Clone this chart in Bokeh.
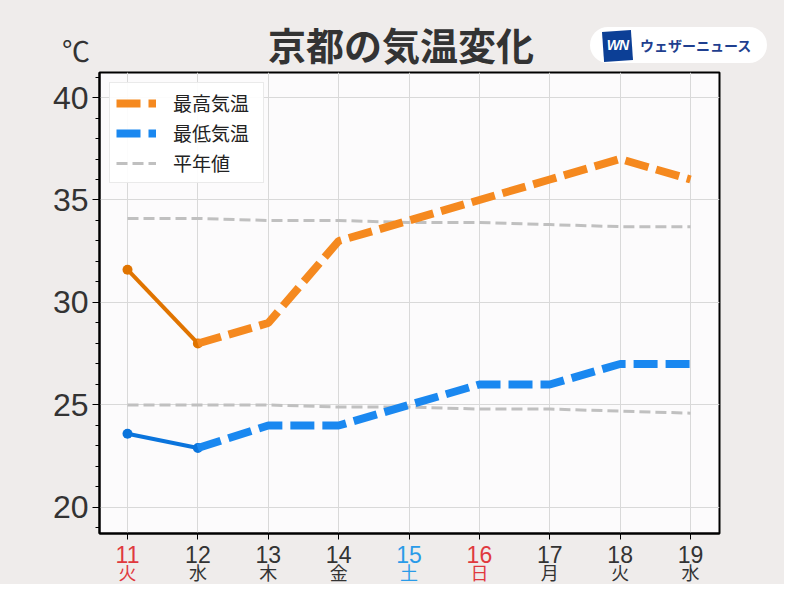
from bokeh.plotting import figure
from bokeh.layouts import column
from bokeh.models import (Range1d, SingleIntervalTicker, FixedTicker, Legend, LegendItem,
                          ColumnDataSource, Div)
from bokeh.core.properties import value
from bokeh.embed import file_html
from bokeh.resources import INLINE

# ---- data ----
days = [11, 12, 13, 14, 15, 16, 17, 18, 19]
weekdays = ["火", "水", "木", "金", "土", "日", "月", "火", "水"]
holidays = [11]
obs_days = [11, 12]
obs_max = [31.6, 28.0]
obs_min = [23.6, 22.9]
fc_days = [12, 13, 14, 15, 16, 17, 18, 19]
fc_max = [28.0, 29.0, 33.0, 34.0, 35.0, 36.0, 37.0, 36.0]
fc_min = [22.9, 24.0, 24.0, 25.0, 26.0, 26.0, 27.0, 27.0]
normal_max = [34.1, 34.1, 34.0, 34.0, 33.9, 33.9, 33.8, 33.7, 33.7]
normal_min = [25.0, 25.0, 25.0, 24.9, 24.9, 24.8, 24.8, 24.7, 24.6]
title_text = "京都の気温変化"
unit_text = "℃"
brand_text = "ウェザーニュース"

BG = "#efeceb"
PLOT_BG = "#fcfbfc"
DARK = "#333333"
RED = "#e0393e"
BLUE = "#2a9be8"
CJK = "Noto Sans CJK JP"
NUM = "Liberation Sans"

W = 784
HEAD_H = 71
FL, FW = 99, 620
FR = W - FL - FW
FH = 461
P1_BOTTOM = 8
P2_H = 584 - HEAD_H - (1 + FH + P1_BOTTOM)

# ---- header (HTML text) ----
head_html = f"""
<div style="position:relative;width:{W}px;height:{HEAD_H}px;background:{BG};">
  <div style="position:absolute;left:0;top:25px;width:802px;text-align:center;
              font-family:'{CJK}';font-size:38px;font-weight:bold;line-height:1;color:{DARK};">{title_text}</div>
  <div style="position:absolute;left:46px;top:36px;width:60px;text-align:center;
              font-family:'{CJK}';font-size:28px;line-height:1;color:{DARK};">{unit_text}</div>
  <div style="position:absolute;left:590px;top:27px;width:177px;height:36px;border-radius:18px;
              background:#ffffff;"></div>
  <div style="position:absolute;left:603px;top:31px;width:29px;height:30px;background:#0c3f96;
              transform:rotate(-4deg);"></div>
  <div style="position:absolute;left:603px;top:38px;width:29px;text-align:center;
              font-family:'{NUM}';font-size:14px;font-weight:bold;font-style:italic;
              line-height:1;color:#ffffff;letter-spacing:-1px;">WN</div>
  <div style="position:absolute;left:640px;top:38px;font-family:'{CJK}';font-size:14px;
              font-weight:bold;line-height:1;color:#1f3f8f;white-space:nowrap;">{brand_text}</div>
</div>
"""
head = Div(text=head_html, width=W, height=HEAD_H, margin=0,
           styles={"background-color": BG})

# ---- main plot ----
p1 = figure(frame_width=FW, frame_height=FH, min_border_left=FL, min_border_right=FR,
            min_border_top=1, min_border_bottom=P1_BOTTOM,
            x_range=Range1d(10.602, 19.412), y_range=Range1d(18.73, 41.22),
            toolbar_location=None, output_backend="svg", title=None)
p1.background_fill_color = PLOT_BG
p1.border_fill_color = BG
p1.outline_line_color = "black"
p1.outline_line_width = 2

p1.yaxis.ticker = SingleIntervalTicker(interval=5, num_minor_ticks=5)
p1.yaxis.major_label_text_font = NUM
p1.yaxis.major_label_text_font_size = "32px"
p1.yaxis.major_label_text_color = DARK
p1.yaxis.major_label_standoff = 4
p1.yaxis.major_tick_out = 7
p1.yaxis.major_tick_in = 0
p1.yaxis.minor_tick_out = 4
p1.yaxis.minor_tick_in = 0
p1.yaxis.axis_line_color = "black"
p1.yaxis.axis_line_width = 2

p1.xaxis.ticker = FixedTicker(ticks=days)
p1.xaxis.major_label_text_font_size = "1px"
p1.xaxis.major_label_text_alpha = 0
p1.xaxis.major_label_standoff = 0
p1.xaxis.major_tick_out = 6
p1.xaxis.major_tick_in = 0
p1.xaxis.minor_tick_line_color = None
p1.xaxis.axis_line_color = "black"
p1.xaxis.axis_line_width = 2

p1.xgrid.ticker = FixedTicker(ticks=days)
p1.grid.grid_line_color = "#d9d9d9"
p1.grid.grid_line_width = 1

GRAY = "#c0c0c0"
r_nmax = p1.line(days, normal_max, line_color=GRAY, line_width=3, line_dash="11 5")
p1.line(days, normal_min, line_color=GRAY, line_width=3, line_dash="11 5")

OBS_O, OBS_B = "#e07400", "#0a74dc"
p1.line(obs_days, obs_max, line_color=OBS_O, line_width=4)
p1.scatter(obs_days, obs_max, size=10, fill_color=OBS_O, line_color=None)
p1.line(obs_days, obs_min, line_color=OBS_B, line_width=4)
p1.scatter(obs_days, obs_min, size=10, fill_color=OBS_B, line_color=None)

r_fmax = p1.line(fc_days, fc_max, line_color="#f5891f", line_width=8, line_dash="24 8")
r_fmin = p1.line(fc_days, fc_min, line_color="#1a88f0", line_width=8, line_dash="24 8")

legend = Legend(items=[LegendItem(label="最高気温", renderers=[r_fmax]),
                       LegendItem(label="最低気温", renderers=[r_fmin]),
                       LegendItem(label="平年値", renderers=[r_nmax])],
                location="top_left")
legend.margin = 10
legend.padding = 6
legend.spacing = 3
legend.glyph_width = 40
legend.glyph_height = 26
legend.label_height = 26
legend.label_width = 84
legend.label_standoff = 17
legend.label_text_font = CJK
legend.label_text_font_size = "19px"
legend.label_text_color = "#222222"
legend.border_line_color = "#d5d5d5"
legend.border_line_width = 1
legend.background_fill_color = "white"
legend.background_fill_alpha = 0.9
p1.add_layout(legend)

# ---- x labels figure ----
p2 = figure(frame_width=FW, height=P2_H, min_border_left=FL, min_border_right=FR,
            min_border_top=0, min_border_bottom=0,
            x_range=p1.x_range, y_range=Range1d(0, P2_H),
            toolbar_location=None, output_backend="svg", title=None)
p2.axis.visible = False
p2.grid.visible = False
p2.outline_line_color = None
p2.background_fill_color = BG
p2.border_fill_color = BG

colors = []
for d, w in zip(days, weekdays):
    if w == "日" or d in holidays:
        colors.append(RED)
    elif w == "土":
        colors.append(BLUE)
    else:
        colors.append(DARK)
src = ColumnDataSource(dict(x=days, num=[str(d) for d in days], wd=weekdays, c=colors,
                            y1=[P2_H - 12.5] * len(days), y2=[13] * len(days)))
p2.text(x="x", y="y1", text="num", text_color="c", source=src, text_font=value(NUM),
        text_font_size="23px", text_align="center", text_baseline="middle")
p2.text(x="x", y="y2", text="wd", text_color="c", source=src, text_font=value(CJK),
        text_font_size="18px", text_align="center", text_baseline="middle")

layout = column(head, p1, p2, spacing=0, styles={"background-color": BG})
open("out.html", "w").write(file_html(layout, INLINE))
